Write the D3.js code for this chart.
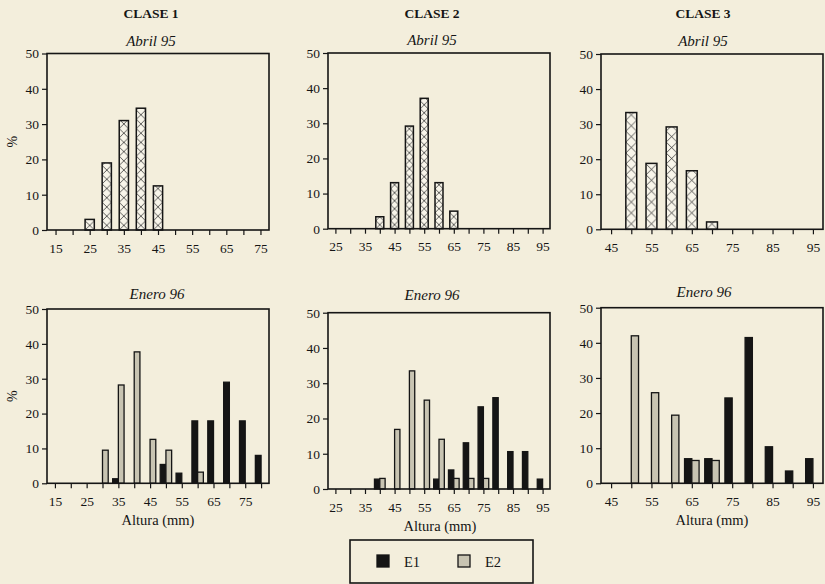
<!DOCTYPE html>
<html>
<head>
<meta charset="utf-8">
<script src="https://cdn.jsdelivr.net/npm/d3@7"></script>
<style>
  body { margin: 0; background: #f3eedc; }
  svg { display: block; }
  svg text { font-family: "Liberation Serif", "Times New Roman", serif; }
</style>
</head>
<body>
<svg id="chart" width="825" height="584"></svg>
<script>
// titles
var classes = ["CLASE 1", "CLASE 2", "CLASE 3"];
var months = ["Abril 95", "Enero 96"];
var series = ["E1", "E2"];

// size classes (mm), one tick every 5 mm
var bins1Top = [15, 20, 25, 30, 35, 40, 45, 50, 55, 60, 65, 70, 75];
var bins1Bot = [15, 20, 25, 30, 35, 40, 45, 50, 55, 60, 65, 70, 75, 80];
var bins2 = [25, 30, 35, 40, 45, 50, 55, 60, 65, 70, 75, 80, 85, 90, 95];
var bins3 = [45, 50, 55, 60, 65, 70, 75, 80, 85, 90, 95];

// tick labels
var labels1 = [15, 25, 35, 45, 55, 65, 75];
var labels2 = [25, 35, 45, 55, 65, 75, 85, 95];
var labels3 = [45, 55, 65, 75, 85, 95];
var yTicks = [0, 10, 20, 30, 40, 50];

// Abril 95 (%)
var abril1 = [0, 0, 3, 19, 31, 34.5, 12.5, 0, 0, 0, 0, 0, 0];
var abril2 = [0, 0, 0, 3.4, 13.1, 29.2, 37.1, 13.1, 5, 0, 0, 0, 0, 0, 0];
var abril3 = [0, 33.3, 18.8, 29.2, 16.7, 2.1, 0, 0, 0, 0, 0];

// Enero 96 (%), E1 and E2
var enero1E1 = [0, 0, 0, 0, 1.3, 0, 0, 5.4, 2.9, 17.9, 17.9, 29, 17.9, 8];
var enero1E2 = [0, 0, 0, 9.5, 28.2, 37.7, 12.6, 9.5, 0, 3.2, 0, 0, 0, 0];
var enero2E1 = [0, 0, 0, 2.8, 0, 0, 0, 2.8, 5.4, 13.1, 23.3, 25.9, 10.6, 10.6, 2.8];
var enero2E2 = [0, 0, 0, 3, 16.9, 33.5, 25.2, 14.1, 3, 3, 3, 0, 0, 0, 0];
var enero3E1 = [0, 0, 0, 0, 7, 7, 24.3, 41.5, 10.4, 3.5, 7];
var enero3E2 = [0, 42, 25.8, 19.4, 6.5, 6.5, 0, 0, 0, 0, 0];

// panel layout
var panels = [
  {col: 0, row: 0, bins: bins1Top, labels: labels1, vals: [abril1], x0: 47, x1: 269, yTop: 53.5, y0: 230, subX: 151, subY: 45.5},
  {col: 1, row: 0, bins: bins2, labels: labels2, vals: [abril2], x0: 328, x1: 550, yTop: 53, y0: 228.7, subX: 432, subY: 44.5},
  {col: 2, row: 0, bins: bins3, labels: labels3, vals: [abril3], x0: 601, x1: 823, yTop: 54, y0: 229.3, subX: 703, subY: 46},
  {col: 0, row: 1, bins: bins1Bot, labels: labels1, vals: [enero1E1, enero1E2], x0: 47, x1: 269, yTop: 309, y0: 483.3, subX: 157, subY: 299, axX: 158},
  {col: 1, row: 1, bins: bins2, labels: labels2, vals: [enero2E1, enero2E2], x0: 328, x1: 550, yTop: 312.7, y0: 489, subX: 432, subY: 300, axX: 440},
  {col: 2, row: 1, bins: bins3, labels: labels3, vals: [enero3E1, enero3E2], x0: 601, x1: 823, yTop: 307.7, y0: 483.3, subX: 704, subY: 297, axX: 712}
];
var titleX = [151, 432, 703];

var ink = "#151515";
var gray = "#c8c4b2";
var serif = "'Liberation Serif', 'Times New Roman', serif";

var svg = d3.select("#chart").style("font-family", serif);
var defs = svg.append("defs");

classes.forEach(function(c, i) {
  svg.append("text")
    .attr("x", titleX[i]).attr("y", 18)
    .attr("text-anchor", "middle")
    .style("font-family", serif)
    .attr("font-weight", "bold").attr("font-size", 13.5)
    .attr("fill", ink)
    .text(c);
});

panels.forEach(function(p, i) {
  var x = d3.scalePoint().domain(p.bins).range([p.x0, p.x1]).padding(0.5);
  var y = d3.scaleLinear().domain([0, 50]).range([p.y0, p.yTop]);
  var step = x.step();
  var g = svg.append("g");

  g.append("text")
    .attr("x", p.subX).attr("y", p.subY)
    .attr("text-anchor", "middle")
    .style("font-family", serif)
    .attr("font-style", "italic").attr("font-size", 15)
    .attr("fill", ink)
    .text(months[p.row]);

  if (p.row == 0) {
    // cross-hatched single series
    var bw = step * 0.54;
    var pat = defs.append("pattern")
      .attr("id", "hatch" + i)
      .attr("patternUnits", "userSpaceOnUse")
      .attr("x", x(p.bins[0]) - bw / 2).attr("y", p.y0)
      .attr("width", step).attr("height", bw);
    pat.append("rect").attr("width", step).attr("height", bw).attr("fill", "#f8f5ea");
    pat.append("path")
      .attr("d", `M0,0L${bw},${bw}M${bw},0L0,${bw}`)
      .attr("stroke", "#333").attr("stroke-width", 0.8);

    var d0 = p.bins.map((b, k) => ({b: b, v: p.vals[0][k]})).filter(d => d.v > 0);
    g.selectAll("rect.bar").data(d0).enter().append("rect")
      .attr("x", d => x(d.b) - bw / 2)
      .attr("y", d => y(d.v))
      .attr("width", bw)
      .attr("height", d => p.y0 - y(d.v))
      .attr("fill", `url(#hatch${i})`)
      .attr("stroke", ink).attr("stroke-width", 1.5);
  } else {
    var bw2 = step * 0.36;
    series.forEach(function(s, si) {
      var ds = p.bins.map((b, k) => ({b: b, v: p.vals[si][k]})).filter(d => d.v > 0);
      g.selectAll("rect.s" + si).data(ds).enter().append("rect")
        .attr("x", d => si == 0 ? x(d.b) - bw2 : x(d.b))
        .attr("y", d => y(d.v))
        .attr("width", bw2)
        .attr("height", d => p.y0 - y(d.v))
        .attr("fill", si == 0 ? ink : gray)
        .attr("stroke", ink).attr("stroke-width", 1.3);
    });

    g.append("text")
      .attr("x", p.axX).attr("y", p.y0 + 42)
      .attr("text-anchor", "middle")
      .style("font-family", serif)
      .attr("font-size", 14.5)
      .attr("fill", ink)
      .text("Altura (mm)");
  }

  // axes
  var xAxis = g.append("g")
    .attr("transform", `translate(0,${p.y0})`)
    .call(d3.axisBottom(x).tickValues(p.bins).tickSize(5)
      .tickFormat(d => p.labels.indexOf(d) >= 0 ? d : ""))
    .attr("font-family", serif).attr("font-size", 13.5);
  xAxis.selectAll("text").attr("y", 22.5).attr("dy", 0).attr("fill", ink)
    .style("font-family", serif);

  var yAxis = g.append("g")
    .attr("transform", `translate(${p.x0},0)`)
    .call(d3.axisLeft(y).tickValues(yTicks).tickSize(5).tickPadding(3))
    .attr("font-family", serif).attr("font-size", 13.5);
  yAxis.selectAll("text").attr("fill", ink).style("font-family", serif);

  g.selectAll(".domain").remove();
  g.selectAll(".tick line").attr("stroke", ink).attr("stroke-width", 1.2);

  g.append("rect")
    .attr("x", p.x0).attr("y", p.yTop)
    .attr("width", p.x1 - p.x0).attr("height", p.y0 - p.yTop)
    .attr("fill", "none")
    .attr("stroke", ink).attr("stroke-width", 1.6);

  if (p.col == 0) {
    g.append("text")
      .attr("transform", `translate(17,${(p.yTop + p.y0) / 2}) rotate(-90)`)
      .attr("text-anchor", "middle")
      .style("font-family", serif)
      .attr("font-size", 14)
      .attr("fill", ink)
      .text("%");
  }
});

// legend
var leg = svg.append("g");
leg.append("rect")
  .attr("x", 350).attr("y", 540).attr("width", 183).attr("height", 43)
  .attr("fill", "none").attr("stroke", ink).attr("stroke-width", 1.6);
var legX = [377, 458];
series.forEach(function(s, si) {
  leg.append("rect")
    .attr("x", legX[si]).attr("y", 555).attr("width", 12).attr("height", 12)
    .attr("fill", si == 0 ? ink : gray)
    .attr("stroke", ink).attr("stroke-width", 1.3);
  leg.append("text")
    .attr("x", legX[si] + 27).attr("y", 567)
    .style("font-family", serif)
    .attr("font-size", 14.5).attr("fill", ink)
    .text(s);
});
</script>
</body>
</html>
